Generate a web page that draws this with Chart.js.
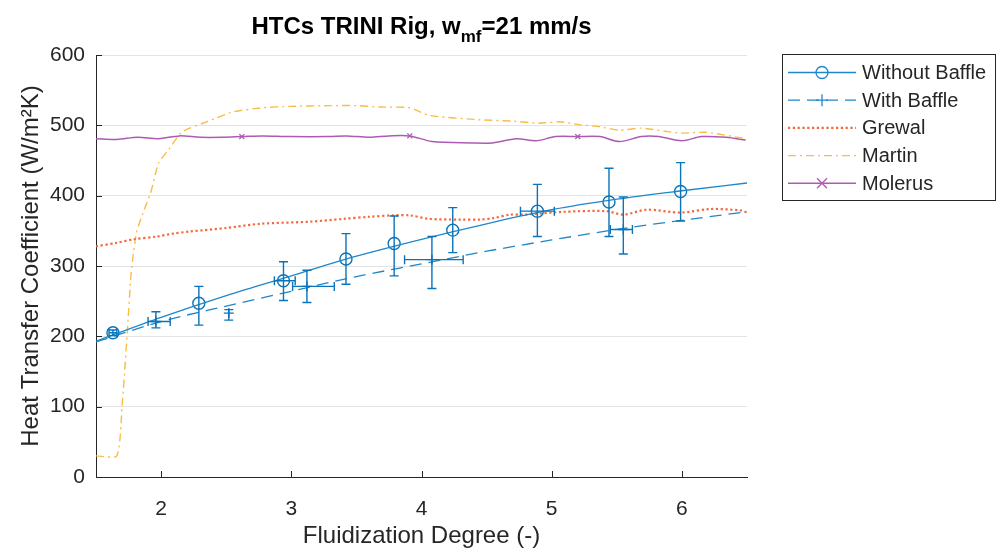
<!DOCTYPE html>
<html>
<head>
<meta charset="utf-8">
<title>HTCs TRINI Rig</title>
<script src="https://cdn.jsdelivr.net/npm/chart.js@4.4.1/dist/chart.umd.min.js"></script>
<style>
    html, body { margin: 0; padding: 0; background: #ffffff; }
    #wrap { width: 1000px; height: 548px; }
</style>
</head>
<body>
<div id="wrap"><canvas id="htcChart" width="1000" height="548"></canvas></div>
<script>
// Axis ticks
const xTicks = [2, 3, 4, 5, 6];
const yTicks = [0, 100, 200, 300, 400, 500, 600];

// Measured HTCs without baffle (value, error bar limits)
const noBaffleX = [1.63, 2.29, 2.94, 3.42, 3.79, 4.24, 4.89, 5.44, 5.99];
const noBaffleY = [205, 247, 279, 310, 332, 351, 378, 391, 406];
const noBaffleYLow = [201, 216, 251, 274, 286, 319, 342, 342, 364];
const noBaffleYHigh = [209, 271, 306, 346, 371, 383, 416, 439, 447];
const noBaffleXLow = [1.60, 2.29, 2.87, 3.42, 3.79, 4.24, 4.76, 5.44, 5.99];
const noBaffleXHigh = [1.66, 2.29, 3.03, 3.42, 3.79, 4.24, 5.02, 5.44, 5.99];

// Measured HTCs with baffle
const baffleX = [1.96, 2.52, 3.12, 4.08, 5.55];
const baffleY = [221, 233, 271, 309, 352];
const baffleYLow = [212, 223, 248, 268, 317];
const baffleYHigh = [235, 238, 294, 342, 398];
const baffleXLow = [1.90, 2.52, 3.01, 3.87, 5.45];
const baffleXHigh = [2.07, 2.52, 3.33, 4.32, 5.62];

// Fitted trend lines through the measurements
const fitX = [1.5, 2.0, 2.5, 3.0, 3.5, 4.0, 4.5, 5.0, 5.5, 6.0, 6.5];
const noBaffleFit = [193, 227, 258, 286, 314, 338, 360, 380, 395, 407, 418];
const baffleFit = [192, 221, 243, 264, 285, 303, 321, 337, 352, 365, 377];

// Correlations
const grewalX = [1.5, 1.66, 1.79, 1.97, 2.09, 2.22, 2.5, 2.76, 3.14, 3.40, 3.60, 3.78, 3.91, 4.06, 4.30, 4.45, 4.55, 4.68, 4.78, 5.09, 5.42, 5.55, 5.73, 5.99, 6.22, 6.45, 6.5];
const grewalY = [328, 333, 338, 342, 346, 349, 354, 360, 363, 367, 370, 372, 372, 367, 366, 366, 368, 373, 373, 377, 378, 373, 380, 376, 381, 379, 376];

const martinX = [1.5, 1.66, 1.70, 1.74, 1.77, 1.81, 1.86, 1.92, 1.98, 2.06, 2.15, 2.22, 2.35, 2.55, 2.78, 2.99, 3.29, 3.50, 3.68, 3.91, 4.06, 4.44, 4.70, 4.90, 5.06, 5.21, 5.37, 5.52, 5.69, 5.98, 6.19, 6.49];
const martinY = [30, 30, 100, 205, 290, 347, 375, 404, 446, 466, 489, 496, 505, 519, 525, 527, 528, 528, 526, 525, 514, 508, 506, 503, 505, 501, 498, 493, 496, 489, 490, 481];

const molerusX = [1.5, 1.66, 1.82, 1.98, 2.14, 2.30, 2.47, 2.62, 2.78, 2.99, 3.29, 3.42, 3.60, 3.75, 3.91, 4.08, 4.39, 4.54, 4.73, 4.88, 5.03, 5.20, 5.37, 5.52, 5.69, 5.82, 6.00, 6.15, 6.34, 6.49];
const molerusY = [481, 480, 483, 481, 485, 483, 483, 484, 485, 484, 484, 485, 483, 485, 485, 477, 475, 475, 481, 478, 484, 484, 484, 477, 484, 484, 478, 484, 483, 479];
const molerusMarkX = [2.62, 3.91, 5.20];

const blue = '#1f87c9';
const blueBar = '#0b73b9';
const grewalColor = '#f4683c';
const martinColor = '#f9bd45';
const molerusColor = '#ad5bb2';
const textColor = '#262626';
const fontFamily = '"Liberation Sans", Arial, sans-serif';

function pts(xs, ys) {
    return xs.map((x, i) => ({ x: x, y: ys[i] }));
}

/**
 * Draws vertical and horizontal error bars with caps
 */
function drawErrorBars(chart, xs, ys, yLo, yHi, xLo, xHi) {
    const ctx = chart.ctx;
    const xs_ = chart.scales.x;
    const ys_ = chart.scales.y;
    const cap = 4.5;
    ctx.save();
    ctx.strokeStyle = blueBar;
    ctx.lineWidth = 1.4;
    for (let i = 0; i < xs.length; i++) {
        let px = xs_.getPixelForValue(xs[i]);
        let py = ys_.getPixelForValue(ys[i]);
        ctx.beginPath();
        if (yHi[i] > yLo[i]) {
            let top = ys_.getPixelForValue(yHi[i]);
            let bot = ys_.getPixelForValue(yLo[i]);
            ctx.moveTo(px, top); ctx.lineTo(px, bot);
            ctx.moveTo(px - cap, top); ctx.lineTo(px + cap, top);
            ctx.moveTo(px - cap, bot); ctx.lineTo(px + cap, bot);
        }
        if (xHi[i] > xLo[i]) {
            let l = xs_.getPixelForValue(xLo[i]);
            let r = xs_.getPixelForValue(xHi[i]);
            ctx.moveTo(l, py); ctx.lineTo(r, py);
            ctx.moveTo(l, py - cap); ctx.lineTo(l, py + cap);
            ctx.moveTo(r, py - cap); ctx.lineTo(r, py + cap);
        }
        ctx.stroke();
    }
    ctx.restore();
}

const errorBarPlugin = {
    id: 'errorBars',
    afterDatasetsDraw(chart) {
        drawErrorBars(chart, noBaffleX, noBaffleY, noBaffleYLow, noBaffleYHigh, noBaffleXLow, noBaffleXHigh);
        drawErrorBars(chart, baffleX, baffleY, baffleYLow, baffleYHigh, baffleXLow, baffleXHigh);
    }
};

// inward tick marks on the left and bottom axes
const innerTicksPlugin = {
    id: 'innerTicks',
    afterDraw(chart) {
        const { ctx, chartArea, scales } = chart;
        ctx.save();
        ctx.strokeStyle = textColor;
        ctx.lineWidth = 1;
        ctx.beginPath();
        xTicks.forEach(v => {
            let px = Math.round(scales.x.getPixelForValue(v)) + 0.5;
            ctx.moveTo(px, chartArea.bottom); ctx.lineTo(px, chartArea.bottom - 6);
        });
        yTicks.forEach(v => {
            let py = Math.round(scales.y.getPixelForValue(v)) + 0.5;
            ctx.moveTo(chartArea.left, py); ctx.lineTo(chartArea.left + 6, py);
        });
        ctx.stroke();
        ctx.restore();
    }
};

// bold title with the subscript in w_mf
const titlePlugin = {
    id: 'subTitle',
    afterDraw(chart) {
        const { ctx, chartArea } = chart;
        const parts = [
            { t: 'HTCs TRINI Rig, w', f: 'bold 24px ' + fontFamily, dy: 0 },
            { t: 'mf', f: 'bold 17px ' + fontFamily, dy: 8 },
            { t: '=21 mm/s', f: 'bold 24px ' + fontFamily, dy: 0 }
        ];
        ctx.save();
        ctx.fillStyle = '#000000';
        ctx.textBaseline = 'alphabetic';
        let total = 0;
        parts.forEach(p => { ctx.font = p.f; p.w = ctx.measureText(p.t).width; total += p.w; });
        let x = (chartArea.left + chartArea.right) / 2 - total / 2;
        parts.forEach(p => {
            ctx.font = p.f;
            ctx.fillText(p.t, x, 34 + p.dy);
            x += p.w;
        });
        ctx.restore();
    }
};

// boxed legend to the right of the axes
const boxLegendPlugin = {
    id: 'boxLegend',
    afterDraw(chart) {
        const ctx = chart.ctx;
        const items = chart.data.datasets.filter(d => d.inLegend);
        const bx = 782, by = 54, bw = 213, bh = 146;
        ctx.save();
        ctx.fillStyle = '#ffffff';
        ctx.fillRect(bx, by, bw, bh);
        ctx.strokeStyle = textColor;
        ctx.lineWidth = 1;
        ctx.strokeRect(bx + 0.5, by + 0.5, bw, bh);
        items.forEach((d, i) => {
            let y = by + 18.5 + i * 27.7;
            ctx.save();
            ctx.strokeStyle = d.borderColor;
            ctx.lineWidth = d.borderWidth;
            ctx.setLineDash(d.borderDash || []);
            ctx.beginPath();
            ctx.moveTo(788, y); ctx.lineTo(856, y);
            ctx.stroke();
            ctx.restore();
            if (d.legendMarker) {
                ctx.save();
                ctx.strokeStyle = d.borderColor;
                ctx.lineWidth = 1.3;
                ctx.beginPath();
                if (d.legendMarker === 'circle') {
                    ctx.arc(822, y, 6, 0, Math.PI * 2);
                } else if (d.legendMarker === 'cross') {
                    ctx.moveTo(816, y); ctx.lineTo(828, y);
                    ctx.moveTo(822, y - 6); ctx.lineTo(822, y + 6);
                } else {
                    ctx.moveTo(817, y - 5); ctx.lineTo(827, y + 5);
                    ctx.moveTo(817, y + 5); ctx.lineTo(827, y - 5);
                }
                ctx.stroke();
                ctx.restore();
            }
            ctx.fillStyle = textColor;
            ctx.font = '20px ' + fontFamily;
            ctx.textBaseline = 'middle';
            ctx.fillText(d.label, 862, y + 1);
        });
        ctx.restore();
    }
};

const config = {
    type: 'scatter',
    data: {
        datasets: [
            {
                label: 'Without Baffle',
                inLegend: true,
                legendMarker: 'circle',
                type: 'line',
                data: pts(fitX, noBaffleFit),
                borderColor: blue,
                borderWidth: 1.3,
                pointRadius: 0,
                cubicInterpolationMode: 'monotone',
                fill: false
            },
            {
                label: 'Without Baffle points',
                data: pts(noBaffleX, noBaffleY),
                pointStyle: 'circle',
                pointRadius: 6,
                borderColor: blueBar,
                borderWidth: 1.4,
                backgroundColor: 'rgba(0,0,0,0)'
            },
            {
                label: 'With Baffle',
                inLegend: true,
                legendMarker: 'cross',
                type: 'line',
                data: pts(fitX, baffleFit),
                borderColor: blue,
                borderWidth: 1.3,
                borderDash: [12, 7],
                pointRadius: 0,
                cubicInterpolationMode: 'monotone',
                fill: false
            },
            {
                label: 'With Baffle points',
                data: pts(baffleX, baffleY),
                pointStyle: 'cross',
                pointRadius: 5,
                borderColor: blueBar,
                borderWidth: 1.4
            },
            {
                label: 'Grewal',
                inLegend: true,
                type: 'line',
                data: pts(grewalX, grewalY),
                borderColor: grewalColor,
                borderWidth: 2.2,
                borderDash: [2.2, 2.6],
                pointRadius: 0,
                tension: 0.3,
                fill: false
            },
            {
                label: 'Martin',
                inLegend: true,
                type: 'line',
                data: pts(martinX, martinY),
                borderColor: martinColor,
                borderWidth: 1.4,
                borderDash: [8, 4, 2, 4],
                pointRadius: 0,
                tension: 0.2,
                fill: false
            },
            {
                label: 'Molerus',
                inLegend: true,
                legendMarker: 'x',
                type: 'line',
                data: pts(molerusX, molerusY),
                borderColor: molerusColor,
                borderWidth: 1.5,
                pointStyle: 'crossRot',
                pointRadius: ctx => molerusMarkX.includes(molerusX[ctx.dataIndex]) ? 3.5 : 0,
                pointBorderColor: molerusColor,
                pointBorderWidth: 1.3,
                tension: 0.3,
                fill: false
            }
        ]
    },
    options: {
        responsive: false,
        animation: false,
        events: [],
        layout: {
            padding: { top: 55, right: 253, left: 0, bottom: 0 }
        },
        plugins: {
            legend: { display: false },
            title: { display: false },
            tooltip: { enabled: false }
        },
        scales: {
            x: {
                type: 'linear',
                min: 1.5,
                max: 6.5,
                afterBuildTicks: axis => { axis.ticks = xTicks.map(v => ({ value: v })); },
                afterFit: axis => { axis.height = 71; },
                grid: { display: false },
                border: { display: true, color: textColor, width: 1 },
                ticks: {
                    color: textColor,
                    font: { family: fontFamily, size: 21 },
                    padding: 12,
                    maxRotation: 0
                },
                title: {
                    display: true,
                    text: 'Fluidization Degree (-)',
                    color: textColor,
                    font: { family: fontFamily, size: 24, lineHeight: 1 },
                    padding: { top: 0, bottom: 0 }
                }
            },
            y: {
                type: 'linear',
                min: 0,
                max: 600,
                afterBuildTicks: axis => { axis.ticks = yTicks.map(v => ({ value: v })); },
                afterFit: axis => { axis.width = 96; },
                grid: { color: '#e3e3e3', lineWidth: 1, drawTicks: false },
                border: { display: true, color: textColor, width: 1 },
                ticks: {
                    color: textColor,
                    font: { family: fontFamily, size: 21 },
                    padding: 11
                },
                title: {
                    display: true,
                    text: 'Heat Transfer Coefficient (W/m²K)',
                    color: textColor,
                    font: { family: fontFamily, size: 24, lineHeight: 1.2 },
                    padding: { top: 17, bottom: 0 }
                }
            }
        }
    },
    plugins: [errorBarPlugin, innerTicksPlugin, titlePlugin, boxLegendPlugin]
};

new Chart(document.getElementById('htcChart'), config);
</script>
</body>
</html>
